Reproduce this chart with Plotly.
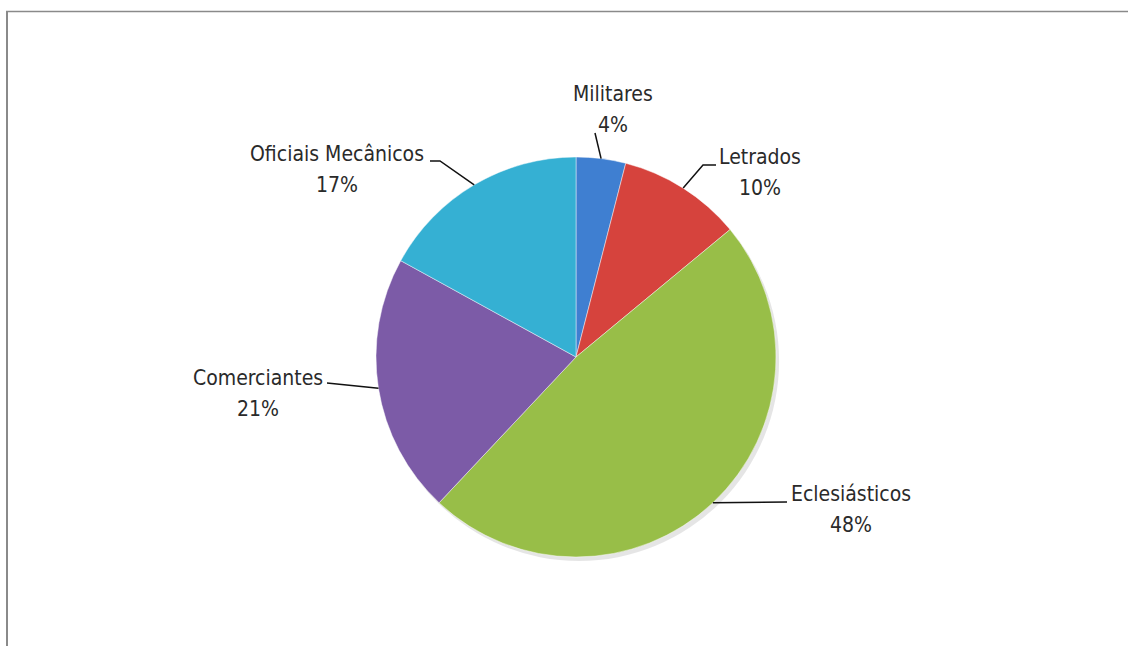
import math
import plotly.graph_objects as go

# Social groups and their share (%), clockwise from 12 o'clock
categories = ["Militares", "Letrados", "Eclesiásticos", "Comerciantes", "Oficiais Mecânicos"]
shares = [4, 10, 48, 21, 17]
colors = ["#3f7fd1", "#d6433d", "#98be48", "#7c5ba7", "#35b0d3"]

W, H = 1128, 646
CX, CY, R = 576, 357, 200          # pie centre and radius in pixels

# Label block centres and leader-line elbows (pixels)
label_pos = [(613, 109), (760, 172), (851, 509), (258, 393), (337, 169)]
elbows = [
    [(595, 133)],
    [(703, 165), (716, 165)],
    [(787, 502)],
    [(327, 383)],
    [(440, 161), (430, 161)],
]
LINE_GAP = 31                      # distance between name and percentage lines

FONT = "DejaVu Sans Condensed, Liberation Sans Narrow, Arial Narrow, sans-serif"
TEXT_FONT = dict(family=FONT, size=21, color="#2a2a2a")

fig = go.Figure()

# Soft drop shadow under the pie
fig.add_trace(go.Pie(
    values=[1], sort=False, textinfo="none", hoverinfo="skip",
    marker=dict(colors=["rgba(0,0,0,0.10)"], line=dict(width=0)),
    domain=dict(x=[(CX - R + 3) / W, (CX + R + 3) / W],
                y=[(H - CY - R - 4) / H, (H - CY + R - 4) / H]),
    showlegend=False,
))

fig.add_trace(go.Pie(
    labels=categories,
    values=shares,
    sort=False,
    direction="clockwise",
    rotation=0,
    textinfo="none",
    hoverinfo="label+percent",
    marker=dict(colors=colors, line=dict(color="rgba(255,255,255,0.45)", width=1)),
    domain=dict(x=[(CX - R) / W, (CX + R) / W], y=[(H - CY - R) / H, (H - CY + R) / H]),
    showlegend=False,
))

# Leader lines start at each slice's mid-angle on the rim
total = sum(shares)
cum = 0.0
for name, v, (lx, ly), elb in zip(categories, shares, label_pos, elbows):
    mid = (cum + v / 2) / total * 2 * math.pi
    cum += v
    ax = CX + R * math.sin(mid)
    ay = CY - R * math.cos(mid)
    pts = [(ax, ay)] + elb
    path = "M " + " L ".join(f"{x:.1f},{y:.1f}" for x, y in pts)
    fig.add_shape(type="path", path=path, xref="x", yref="y",
                  line=dict(color="#111111", width=1.5))
    fig.add_annotation(x=lx, y=ly - LINE_GAP / 2, xref="x", yref="y",
                       text=name, showarrow=False, font=TEXT_FONT)
    fig.add_annotation(x=lx, y=ly + LINE_GAP / 2, xref="x", yref="y",
                       text=f"{round(v / total * 100)}%", showarrow=False, font=TEXT_FONT)

# Chart frame (top and left edges visible)
fig.add_shape(type="line", x0=6, x1=W + 5, y0=11.5, y1=11.5, xref="x", yref="y",
              line=dict(color="#8a8a8a", width=1.5))
fig.add_shape(type="line", x0=7, x1=7, y0=11, y1=H + 5, xref="x", yref="y",
              line=dict(color="#8a8a8a", width=2))

fig.update_layout(
    width=W, height=H,
    margin=dict(l=0, r=0, t=0, b=0),
    paper_bgcolor="white", plot_bgcolor="white",
    xaxis=dict(range=[0, W], visible=False, fixedrange=True),
    yaxis=dict(range=[H, 0], visible=False, fixedrange=True),
)

fig.write_html("out.html")
